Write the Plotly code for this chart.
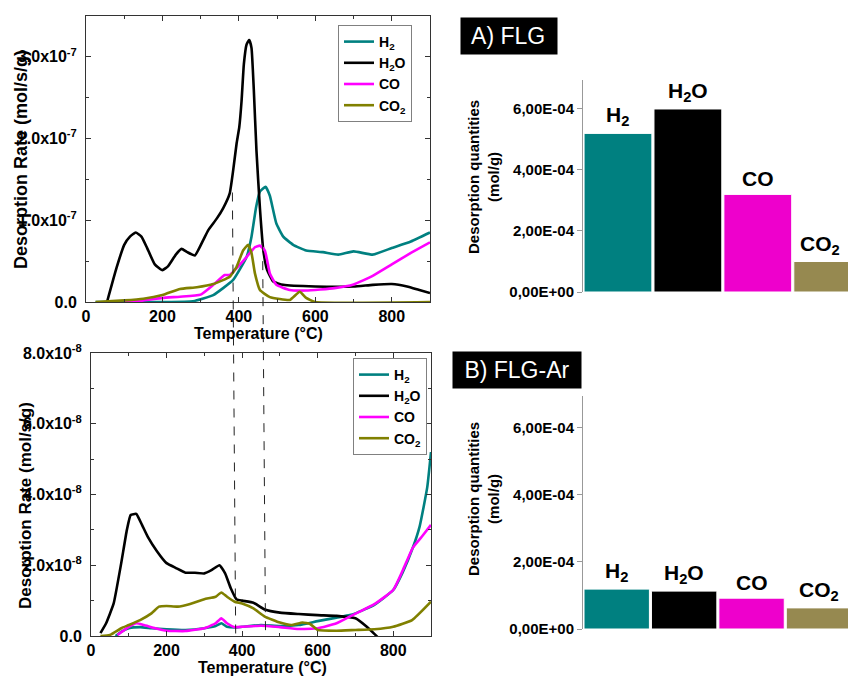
import plotly.graph_objects as go

W, H = 848, 678

# ---------------- data ----------------
temp_ticks = [0, 200, 400, 600, 800]

# A) FLG  TPD desorption rates (unit: 1e-7 mol/s/g)
flg_h2_T = [25, 200, 280, 333, 385, 420, 433, 445, 455, 470, 481, 498, 516, 542, 576, 620, 660, 700, 750, 800, 850, 900]
flg_h2 = [0, 0, 0.01, 0.085, 0.27, 0.55, 0.80, 1.16, 1.35, 1.41, 1.30, 0.96, 0.80, 0.70, 0.63, 0.61, 0.58, 0.62, 0.58, 0.66, 0.74, 0.85]
flg_h2o_T = [55, 80, 100, 115, 130, 145, 160, 180, 200, 215, 235, 250, 265, 285, 307, 320, 342, 359, 376, 385, 394, 401, 407, 413, 420, 427, 433, 439, 446, 455, 464, 474, 490, 516, 600, 700, 750, 800, 840, 870, 900]
flg_h2o = [0, 0.42, 0.70, 0.80, 0.85, 0.80, 0.66, 0.46, 0.39, 0.44, 0.58, 0.65, 0.61, 0.57, 0.76, 0.88, 1.02, 1.15, 1.33, 1.61, 1.94, 2.14, 2.46, 2.91, 3.15, 3.21, 3.11, 2.6, 1.85, 1.15, 0.63, 0.39, 0.25, 0.21, 0.19, 0.19, 0.21, 0.22, 0.19, 0.15, 0.11]
flg_co_T = [100, 150, 200, 246, 300, 333, 363, 376, 389, 420, 442, 455, 468, 481, 498, 533, 576, 650, 700, 750, 800, 850, 900]
flg_co = [0, 0.02, 0.05, 0.065, 0.09, 0.21, 0.33, 0.33, 0.39, 0.55, 0.67, 0.69, 0.63, 0.35, 0.21, 0.146, 0.14, 0.17, 0.215, 0.32, 0.46, 0.60, 0.73]
flg_co2_T = [25, 100, 150, 200, 246, 290, 333, 376, 394, 411, 424, 433, 442, 455, 481, 533, 559, 576, 600, 900]
flg_co2 = [0, 0.02, 0.04, 0.085, 0.16, 0.18, 0.22, 0.31, 0.43, 0.63, 0.70, 0.60, 0.35, 0.146, 0.06, 0.025, 0.125, 0.05, 0.0, 0.0]

# B) FLG-Ar  TPD desorption rates (unit: 1e-8 mol/s/g)
ar_h2_T = [65, 80, 100, 130, 160, 200, 250, 300, 330, 345, 360, 380, 400, 450, 500, 550, 600, 650, 685, 700, 750, 800, 825, 852, 870, 890, 900]
ar_h2 = [0, 0.12, 0.22, 0.25, 0.22, 0.19, 0.17, 0.22, 0.28, 0.36, 0.26, 0.24, 0.26, 0.31, 0.28, 0.31, 0.42, 0.52, 0.59, 0.64, 0.88, 1.3, 1.8, 2.5, 3.1, 4.2, 5.2]
ar_h2o_T = [25, 40, 60, 80, 95, 105, 120, 135, 150, 175, 200, 225, 250, 275, 300, 320, 340, 355, 370, 385, 400, 430, 460, 500, 550, 600, 650, 700, 730, 750, 765, 800]
ar_h2o = [0.08, 0.36, 0.92, 2.06, 3.0, 3.42, 3.45, 3.14, 2.81, 2.39, 2.06, 1.92, 1.79, 1.79, 1.77, 1.87, 2.0, 1.77, 1.35, 1.04, 1.0, 0.94, 0.75, 0.66, 0.62, 0.59, 0.57, 0.50, 0.26, 0.06, -0.1, -0.5]
ar_co_T = [70, 100, 120, 140, 170, 200, 250, 300, 330, 345, 360, 380, 400, 450, 500, 550, 600, 650, 700, 750, 800, 825, 852, 875, 900]
ar_co = [0.03, 0.26, 0.36, 0.31, 0.22, 0.15, 0.14, 0.22, 0.36, 0.5, 0.36, 0.25, 0.26, 0.29, 0.25, 0.2, 0.22, 0.36, 0.63, 0.9, 1.3, 1.85, 2.5, 2.8, 3.14]
ar_co2_T = [25, 50, 80, 100, 130, 160, 180, 200, 230, 260, 300, 330, 345, 360, 380, 400, 430, 460, 500, 530, 560, 580, 600, 650, 700, 750, 800, 850, 900]
ar_co2 = [0, 0.03, 0.22, 0.31, 0.45, 0.64, 0.83, 0.85, 0.83, 0.9, 1.04, 1.11, 1.23, 1.11, 0.97, 0.92, 0.78, 0.55, 0.38, 0.31, 0.38, 0.34, 0.17, 0.15, 0.17, 0.19, 0.26, 0.45, 0.97]

flg_rate_ticks = [0, 1e-7, 2e-7, 3e-7]
flg_rate_text = ["0.0", "1.0x10<sup>-7</sup>", "2.0x10<sup>-7</sup>", "3.0x10<sup>-7</sup>"]
ar_rate_ticks = [0, 2e-8, 4e-8, 6e-8, 8e-8]
ar_rate_text = ["0.0", "2.0x10<sup>-8</sup>", "4.0x10<sup>-8</sup>", "6.0x10<sup>-8</sup>", "8.0x10<sup>-8</sup>"]

# integrated desorption quantities (mol/g)
gases = ["H2", "H2O", "CO", "CO2"]
gas_labels = ["H<sub>2</sub>", "H<sub>2</sub>O", "CO", "CO<sub>2</sub>"]
flg_qty = [5.2e-4, 6.0e-4, 3.2e-4, 1.0e-4]
ar_qty = [1.19e-4, 1.13e-4, 0.92e-4, 0.63e-4]
qty_ticks = [0, 2e-4, 4e-4, 6e-4]
qty_text = ["0,00E+00", "2,00E-04", "4,00E-04", "6,00E-04"]

marker_temps = [383, 462]          # dashed guide lines (°C)
marker_start = [1.34e-7, 0.72e-7]  # where they start on the FLG H2O curve

# ---------------- styles ----------------
FONT = "Liberation Sans, Arial, sans-serif"
line_colors = ["#008080", "#000000", "#FF00FF", "#808000"]
bar_colors = ["#008080", "#000000", "#EE00CC", "#968950"]

def px_x(p):
    return p / W

def px_y(p):
    return 1 - p / H

dom_x1 = [px_x(86), px_x(430)]
dom_y1 = [px_y(302), px_y(16)]
dom_x2 = [px_x(91), px_x(431)]
dom_y2 = [px_y(636), px_y(353)]
dom_xb = [px_x(583), 1.0]
dom_yb1 = [px_y(292), px_y(80)]
dom_yb2 = [px_y(629), px_y(396)]

fig = go.Figure()

top_series = [(flg_h2_T, flg_h2), (flg_h2o_T, flg_h2o), (flg_co_T, flg_co), (flg_co2_T, flg_co2)]
bot_series = [(ar_h2_T, ar_h2), (ar_h2o_T, ar_h2o), (ar_co_T, ar_co), (ar_co2_T, ar_co2)]

for i, (t, v) in enumerate(top_series):
    fig.add_trace(go.Scatter(
        x=t, y=[a * 1e-7 for a in v], mode="lines", name=gas_labels[i],
        line=dict(color=line_colors[i], width=2.6, shape="spline", smoothing=0.4),
        xaxis="x", yaxis="y", legend="legend", legendgroup="a" + str(i)))

for i, (t, v) in enumerate(bot_series):
    fig.add_trace(go.Scatter(
        x=t, y=[a * 1e-8 for a in v], mode="lines", name=gas_labels[i],
        line=dict(color=line_colors[i], width=2.6, shape="spline", smoothing=0.4),
        xaxis="x2", yaxis="y2", legend="legend2", legendgroup="b" + str(i)))

fig.add_trace(go.Bar(x=gases, y=flg_qty, marker=dict(color=bar_colors, line=dict(color="white", width=1)),
                     xaxis="x3", yaxis="y3", showlegend=False))
fig.add_trace(go.Bar(x=gases, y=ar_qty, marker=dict(color=bar_colors, line=dict(color="white", width=1)),
                     xaxis="x4", yaxis="y4", showlegend=False))

tickfont = dict(family=FONT, size=16, color="black", weight="bold")

def line_xaxis(dom, anchor):
    return dict(domain=dom, anchor=anchor, range=[0, 900], tickmode="array", tickvals=temp_ticks,
                ticks="inside", ticklen=5, tickcolor="#333", mirror="allticks", showline=True,
                linecolor="#333", linewidth=1, showgrid=False, zeroline=False, tickfont=tickfont,
                automargin=False,
                minor=dict(tickmode="linear", tick0=0, dtick=100, ticks="inside", ticklen=3, tickcolor="#333"))

def line_yaxis(dom, anchor, rng, tv, tt, minor_dt):
    return dict(domain=dom, anchor=anchor, range=rng, tickmode="array", tickvals=tv, ticktext=tt,
                ticks="inside", ticklen=5, tickcolor="#333", mirror="allticks", showline=True,
                linecolor="#333", linewidth=1, showgrid=False, zeroline=False, tickfont=tickfont,
                automargin=False, ticklabelstandoff=5,
                minor=dict(tickmode="linear", tick0=0, dtick=minor_dt, ticks="inside", ticklen=3, tickcolor="#333"))

def bar_yaxis(dom, anchor):
    return dict(domain=dom, anchor=anchor, range=[0, 6.95e-4], tickmode="array", tickvals=qty_ticks,
                ticktext=qty_text, ticks="outside", ticklen=5, tickcolor="#999", showline=True,
                linecolor="#999", linewidth=1, showgrid=False, zeroline=False, automargin=False,
                tickfont=dict(family=FONT, size=15, color="black", weight="bold"))

def bar_xaxis(dom, anchor, rng):
    return dict(domain=dom, anchor=anchor, type="category", range=rng, showline=False,
                showticklabels=False, ticks="", showgrid=False, zeroline=False, automargin=False)

legend_style = dict(bgcolor="white", bordercolor="#808080", borderwidth=1,
                    font=dict(family=FONT, size=14, color="black", weight="bold"),
                    itemwidth=30, tracegroupgap=0, xanchor="right", yanchor="top")

fig.update_layout(
    width=W, height=H, margin=dict(l=0, r=0, t=0, b=0, autoexpand=False),
    paper_bgcolor="white", plot_bgcolor="white",
    font=dict(family=FONT, color="black"),
    xaxis=line_xaxis(dom_x1, "y"),
    yaxis=line_yaxis(dom_y1, "x", [0, 3.5e-7], flg_rate_ticks, flg_rate_text, 0.5e-7),
    xaxis2=line_xaxis(dom_x2, "y2"),
    yaxis2=line_yaxis(dom_y2, "x2", [0, 8e-8], ar_rate_ticks, ar_rate_text, 1e-8),
    xaxis3=bar_xaxis(dom_xb, "y3", [-0.5, 3.29]),
    yaxis3=bar_yaxis(dom_yb1, "x3"),
    xaxis4=bar_xaxis(dom_xb, "y4", [-0.5, 3.43]),
    yaxis4=bar_yaxis(dom_yb2, "x4"),
    bargap=0.03,
    legend=dict(x=px_x(412), y=px_y(25), **legend_style),
    legend2=dict(x=px_x(427), y=px_y(358), **legend_style),
)

ann = []
# axis titles
ann.append(dict(text="Desorption Rate (mol/s/g)", x=px_x(21), y=px_y(160), textangle=-90,
                font=dict(size=18, weight="bold")))
ann.append(dict(text="Temperature (°C)", x=px_x(258), y=px_y(333), font=dict(size=16, weight="bold")))
ann.append(dict(text="Desorption Rate (mol/s/g)", x=px_x(25), y=px_y(506), textangle=-90,
                font=dict(size=17, weight="bold")))
ann.append(dict(text="Temperature (°C)", x=px_x(262), y=px_y(667), font=dict(size=16, weight="bold")))
for yc in (177, 499):
    ann.append(dict(text="Desorption quantities<br>(mol/g)", x=px_x(483), y=px_y(yc), textangle=-90,
                    font=dict(size=15, weight="bold")))
# panel titles
ann.append(dict(text=" A) FLG ", x=px_x(509), y=px_y(36.5), bgcolor="black",
                font=dict(size=23, color="white"), borderpad=5))
ann.append(dict(text=" B) FLG-Ar ", x=px_x(517), y=px_y(369.5), bgcolor="black",
                font=dict(size=23, color="white"), borderpad=5))
for a in ann:
    a.update(xref="paper", yref="paper", showarrow=False, xanchor="center", yanchor="middle")

# bar labels
top_shift = [0, 0, 0, -8]
for i, g in enumerate(gases):
    ann.append(dict(text=gas_labels[i], x=g, y=flg_qty[i], xref="x3", yref="y3", showarrow=False,
                    xanchor="center", yanchor="bottom", yshift=2, xshift=top_shift[i],
                    font=dict(size=21, weight="bold")))
    ann.append(dict(text=gas_labels[i], x=g, y=ar_qty[i], xref="x4", yref="y4", showarrow=False,
                    xanchor="center", yanchor="bottom", yshift=2, font=dict(size=21, weight="bold")))
fig.update_layout(annotations=ann)

# dashed guide lines from FLG curve down to the FLG-Ar baseline
shapes = []
for T, ys in zip(marker_temps, marker_start):
    x_top = dom_x1[0] + T / 900 * (dom_x1[1] - dom_x1[0])
    x_bot = dom_x2[0] + T / 900 * (dom_x2[1] - dom_x2[0])
    y_top = dom_y1[0] + ys / 3.5e-7 * (dom_y1[1] - dom_y1[0])
    shapes.append(dict(type="line", xref="paper", yref="paper", x0=x_top, y0=y_top, x1=x_bot, y1=dom_y2[0],
                       line=dict(color="#222", width=1, dash="dash")))
fig.update_layout(shapes=shapes)

fig.write_html("out.html", config={"displayModeBar": False},
               post_script="document.body.style.margin='0';document.body.style.overflow='hidden';")
